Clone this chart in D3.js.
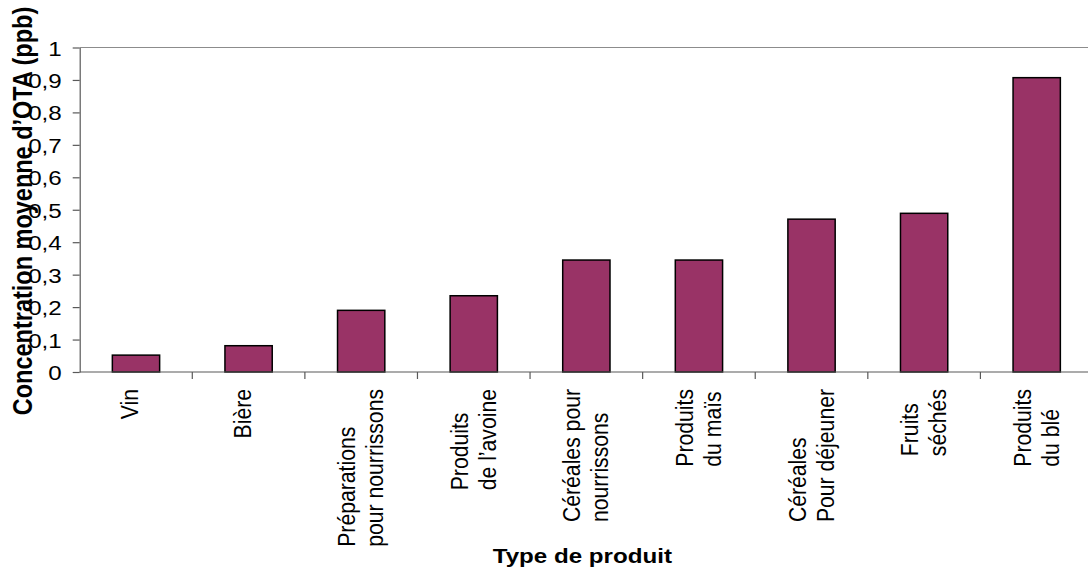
<!DOCTYPE html>
<html>
<head>
<meta charset="utf-8">
<script src="https://cdn.jsdelivr.net/npm/d3@7/dist/d3.min.js"></script>
<style>
  html, body { margin: 0; padding: 0; background: #fff; }
  svg { display: block; font-family: "Liberation Sans", Arial, sans-serif; }
</style>
</head>
<body>
<svg id="chart" width="1088" height="572"></svg>
<script>
// Mean OTA concentration per product type
const categories = [
  ["Vin"],
  ["Bière"],
  ["Préparations", "pour nourrissons"],
  ["Produits", "de l’avoine"],
  ["Céréales pour", "nourrissons"],
  ["Produits", "du maïs"],
  ["Céréales", "Pour déjeuner"],
  ["Fruits", "séchés"],
  ["Produits", "du blé"]
];
const values = [0.052, 0.081, 0.19, 0.235, 0.345, 0.345, 0.471, 0.489, 0.907];
const yTicks = [0, 0.1, 0.2, 0.3, 0.4, 0.5, 0.6, 0.7, 0.8, 0.9, 1];
const yTickLabels = ["0", "0,1", "0,2", "0,3", "0,4", "0,5", "0,6", "0,7", "0,8", "0,9", "1"];
const xTitle = "Type de produit";
const yTitle = "Concentration moyenne d’OTA (ppb)";

const svg = d3.select("#chart");
const plotLeft = 79.7, plotRight = 1093, plotTop = 47.5, plotBottom = 372;
// text is drawn slightly wide across the page
const stretch = 1.15;

const ids = d3.range(categories.length);
const x = d3.scaleBand().domain(ids).range([plotLeft, plotRight]).paddingInner(0.58).paddingOuter(0.29);
const y = d3.scaleLinear().domain([0, 1]).range([plotBottom, plotTop]);
const step = x.step();

// top frame line at the maximum of the value axis
svg.append("line")
  .attr("x1", plotLeft).attr("x2", plotRight)
  .attr("y1", y(1)).attr("y2", y(1))
  .attr("stroke", "#8c8c8c").attr("stroke-width", 1.2);

// bars
svg.append("g").selectAll("rect")
  .data(values)
  .join("rect")
  .attr("x", (d, i) => x(i))
  .attr("y", d => y(d))
  .attr("width", x.bandwidth())
  .attr("height", d => y(0) - y(d))
  .attr("fill", "#993366")
  .attr("stroke", "#000")
  .attr("stroke-width", 1.5);

// value axis
const yAxis = svg.append("g")
  .attr("transform", `translate(${plotLeft},0)`)
  .call(d3.axisLeft(y).tickValues(yTicks).tickSize(7).tickSizeOuter(0)
    .tickFormat((d, i) => yTickLabels[i]));
yAxis.select(".domain").attr("stroke", "#595959").attr("stroke-width", 1.2);
yAxis.selectAll(".tick line").attr("stroke", "#595959").attr("stroke-width", 1.2);
yAxis.selectAll(".tick text")
  .attr("transform", `scale(${stretch},1)`)
  .attr("x", -18 / stretch).attr("dy", "0.36em")
  .attr("fill", "#000")
  .style("font-size", "21px")
  .style("font-family", "'Liberation Sans', Arial, sans-serif");

// category axis: ticks at band boundaries
const boundaries = d3.range(categories.length + 1).map(i => plotLeft + i * step);
svg.append("line")
  .attr("x1", plotLeft).attr("x2", plotRight)
  .attr("y1", y(0)).attr("y2", y(0))
  .attr("stroke", "#595959").attr("stroke-width", 1.2);
svg.append("g").selectAll("line")
  .data(boundaries.slice(1))
  .join("line")
  .attr("x1", d => d).attr("x2", d => d)
  .attr("y1", y(0)).attr("y2", y(0) + 7)
  .attr("stroke", "#595959").attr("stroke-width", 1.2);

// rotated category labels, lines aligned at their start
const lineGap = 28;
const labels = svg.append("g").selectAll("text")
  .data(categories)
  .join("text")
  .attr("transform", `rotate(-90) scale(1,${stretch})`)
  .attr("text-anchor", "start")
  .style("font-size", "21.2px")
  .attr("fill", "#000");

labels.each(function(lines, i) {
  const t = d3.select(this);
  const c = x(i) + x.bandwidth() / 2;
  const firstBase = c + 2.5 - 8.5 * (lines.length - 1);
  lines.forEach((s, k) => {
    t.append("tspan").attr("y", (firstBase + k * lineGap) / stretch).text(s);
  });
  let maxLen = 0;
  t.selectAll("tspan").each(function() { maxLen = Math.max(maxLen, this.getComputedTextLength()); });
  t.selectAll("tspan").attr("x", -(y(0) + 17 + maxLen));
});

// axis titles
svg.append("text")
  .attr("transform", `translate(${(plotLeft + plotRight) / 2 - 4},563) scale(${stretch},1)`)
  .attr("text-anchor", "middle")
  .style("font-size", "21px").style("font-weight", "bold")
  .attr("fill", "#000")
  .text(xTitle);

svg.append("text")
  .attr("transform", `translate(32,211) rotate(-90) scale(1,${stretch})`)
  .attr("text-anchor", "middle")
  .style("font-size", "23.5px").style("font-weight", "bold")
  .attr("fill", "#000")
  .text(yTitle);
</script>
</body>
</html>
